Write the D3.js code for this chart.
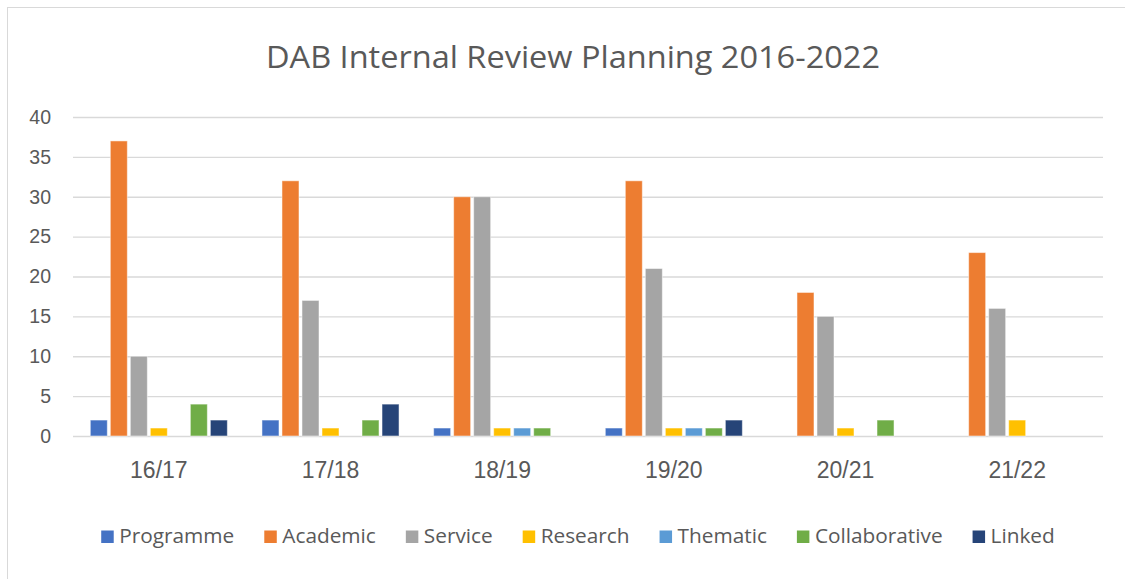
<!DOCTYPE html>
<html>
<head>
<meta charset="utf-8">
<script src="https://cdn.jsdelivr.net/npm/d3@7"></script>
<style>
  body { margin: 0; background: #fff; }
</style>
</head>
<body>
<div id="chart"></div>
<script>
// data
var years = ["16/17", "17/18", "18/19", "19/20", "20/21", "21/22"];
var reviewTypes = ["Programme", "Academic", "Service", "Research", "Thematic", "Collaborative", "Linked"];
var programme = [2, 2, 1, 1, 0, 0];
var academic = [37, 32, 30, 32, 18, 23];
var service = [10, 17, 30, 21, 15, 16];
var research = [1, 1, 1, 1, 1, 2];
var thematic = [0, 0, 1, 1, 0, 0];
var collaborative = [4, 2, 1, 1, 2, 0];
var linked = [2, 4, 0, 2, 0, 0];
var yTicks = [0, 5, 10, 15, 20, 25, 30, 35, 40];

var seriesValues = [programme, academic, service, research, thematic, collaborative, linked];
var colors = ["#4472C4", "#ED7D31", "#A5A5A5", "#FFC000", "#5B9BD5", "#70AD47", "#264478"];

var width = 1125, height = 579;
var margin = { top: 117, right: 22, bottom: 143, left: 73 };
var innerW = width - margin.left - margin.right,
    innerH = height - margin.top - margin.bottom;

var svg = d3.select("#chart")
    .append("svg")
    .attr("width", width)
    .attr("height", height);

// chart frame
svg.append("rect")
    .attr("x", 7.5).attr("y", 7.5)
    .attr("width", width + 20).attr("height", height + 20)
    .attr("fill", "#fff")
    .attr("stroke", "#d9d9d9")
    .attr("stroke-width", 1);

// title
svg.append("text")
    .attr("x", 573)
    .attr("y", 68)
    .attr("text-anchor", "middle")
    .attr("font-family", "'Open Sans', sans-serif")
    .attr("font-size", 31)
    .attr("fill", "#595959")
    .attr("textLength", 614)
    .attr("lengthAdjust", "spacingAndGlyphs")
    .text("DAB Internal Review Planning 2016-2022");

var g = svg.append("g")
    .attr("transform", "translate(" + margin.left + "," + margin.top + ")");

var x0 = d3.scaleBand()
    .domain(years)
    .range([0, innerW])
    .paddingInner(0)
    .paddingOuter(0);

var x1 = d3.scaleBand()
    .domain(reviewTypes)
    .range([0, x0.bandwidth()])
    .paddingInner(0)
    .paddingOuter(0.79);

var y = d3.scaleLinear()
    .domain([0, 40])
    .range([innerH, 0]);

// gridlines + y labels
var yAxis = g.append("g")
    .call(d3.axisLeft(y).tickValues(yTicks).tickSize(-innerW).tickPadding(22));
yAxis.select(".domain").remove();
yAxis.selectAll(".tick line")
    .attr("stroke", "#d9d9d9")
    .attr("stroke-width", 1.3);
yAxis.selectAll(".tick text")
    .attr("font-family", "'Liberation Sans', Arial, sans-serif")
    .attr("font-size", 19.5)
    .attr("fill", "#595959");

// x labels
var xAxis = g.append("g")
    .attr("transform", "translate(0," + innerH + ")")
    .call(d3.axisBottom(x0).tickSize(0).tickPadding(26));
xAxis.select(".domain").remove();
xAxis.selectAll(".tick text")
    .attr("font-family", "'Liberation Sans', Arial, sans-serif")
    .attr("font-size", 23)
    .attr("fill", "#595959");

// bars
var rows = years.map(function (yr, i) {
    return { year: yr, values: reviewTypes.map(function (k, j) { return { key: k, idx: j, value: seriesValues[j][i] }; }) };
});

g.append("g")
    .selectAll("g")
    .data(rows)
    .enter()
    .append("g")
    .attr("transform", function (d) { return "translate(" + x0(d.year) + ",0)"; })
    .selectAll("rect")
    .data(function (d) { return d.values.filter(function (v) { return v.value > 0; }); })
    .enter()
    .append("rect")
    .attr("x", function (d) { return x1(d.key) + 1.5; })
    .attr("y", function (d) { return y(d.value); })
    .attr("width", x1.bandwidth() - 3)
    .attr("height", function (d) { return y(0) - y(d.value); })
    .attr("fill", function (d) { return colors[d.idx]; })
    .attr("stroke", "#fff")
    .attr("stroke-opacity", 0.5)
    .attr("stroke-width", 1);

// legend
var legend = svg.append("g");
var items = legend.selectAll("g")
    .data(reviewTypes)
    .enter()
    .append("g");
items.append("rect")
    .attr("width", 12.5)
    .attr("height", 12.5)
    .attr("y", -12.5)
    .attr("fill", function (d, i) { return colors[i]; });
items.append("text")
    .attr("x", 18)
    .attr("font-family", "'Open Sans', sans-serif")
    .attr("font-size", 20.8)
    .attr("fill", "#595959")
    .text(function (d) { return d; });

var pos = [], cur = 0;
items.each(function () {
    pos.push(cur);
    cur += 18 + this.querySelector("text").getComputedTextLength() + 30;
});
var total = cur - 30;
var startX = 578 - total / 2;
items.attr("transform", function (d, i) { return "translate(" + (startX + pos[i]) + ",0)"; });
legend.attr("transform", "translate(0,543)");
</script>
</body>
</html>
